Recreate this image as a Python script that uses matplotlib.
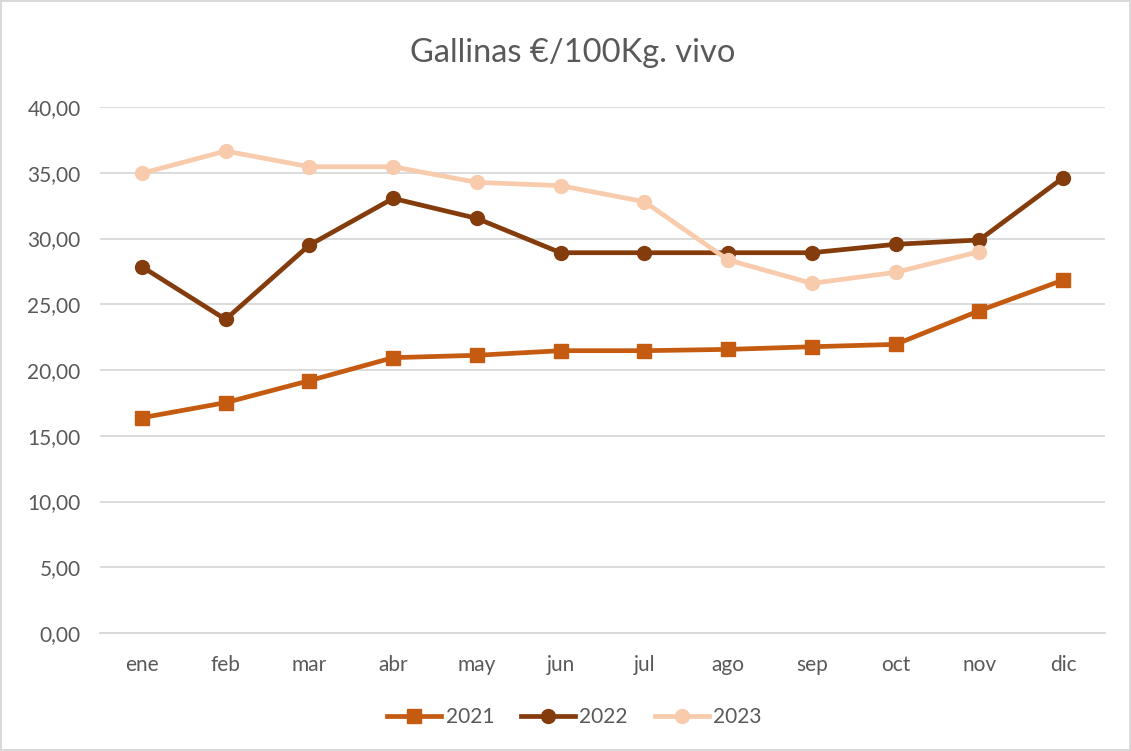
import matplotlib.pyplot as plt
from matplotlib.ticker import FuncFormatter

months = ['ene', 'feb', 'mar', 'abr', 'may', 'jun', 'jul', 'ago', 'sep', 'oct', 'nov', 'dic']
precio_2021 = [16.37, 17.52, 19.19, 20.94, 21.12, 21.47, 21.47, 21.57, 21.77, 21.95, 24.51, 26.84]
precio_2022 = [27.86, 23.85, 29.50, 33.05, 31.53, 28.92, 28.92, 28.92, 28.92, 29.56, 29.89, 34.62]
precio_2023 = [34.96, 36.65, 35.46, 35.46, 34.27, 34.02, 32.80, 28.37, 26.59, 27.43, 29.00]

plt.rcParams['font.family'] = ['Lato', 'DejaVu Sans']
txt = '#595959'

fig = plt.figure(figsize=(11.31, 7.51), dpi=100)
fig.patch.set_edgecolor('#D9D9D9')
fig.patch.set_linewidth(1.5)
ax = fig.add_axes([0.0884, 0.1571, 0.8886, 0.7004])

x = list(range(len(months)))
ax.plot(x, precio_2021, color='#C55A11', lw=3.4, marker='s', ms=10.5, label='2021')
ax.plot(x, precio_2022, color='#843C0C', lw=3.4, marker='o', ms=10, label='2022')
ax.plot(x[:len(precio_2023)], precio_2023, color='#F8CBAD', lw=3.4, marker='o', ms=10, label='2023')

ax.set_xlim(-0.5, 11.5)
ax.set_ylim(0, 40)
ax.set_yticks(range(0, 41, 5))
ax.yaxis.set_major_formatter(FuncFormatter(lambda v, p: f'{v:.2f}'.replace('.', ',')))
ax.set_xticks(x)
ax.set_xticklabels(months)
ax.grid(axis='y', color='#D9D9D9', lw=1.3)
ax.set_axisbelow(True)
for s in ['top', 'right', 'left']:
    ax.spines[s].set_visible(False)
ax.spines['bottom'].set_color('#D9D9D9')
ax.spines['bottom'].set_linewidth(1.3)
ax.tick_params(axis='both', length=0, colors=txt, labelsize=15)
ax.tick_params(axis='x', pad=16)
ax.tick_params(axis='y', pad=14)

fig.text(0.506, 0.93, 'Gallinas €/100Kg. vivo', ha='center', va='center', fontsize=23.5, color=txt)
fig.legend(loc='center', bbox_to_anchor=(0.508, 0.045), ncol=3, frameon=False,
           fontsize=15, labelcolor=txt, handlelength=2.6, columnspacing=1.3, handletextpad=0.2)

fig.savefig('out.png', dpi=100)
